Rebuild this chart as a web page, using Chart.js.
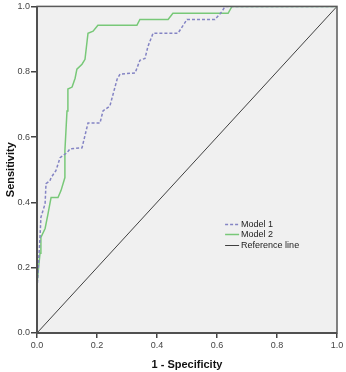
<!DOCTYPE html>
<html>
<head>
<meta charset="utf-8">
<script src="https://cdn.jsdelivr.net/npm/chart.js@4"></script>
<style>
  html, body { margin: 0; padding: 0; background: #ffffff; }
  #wrap { width: 346px; height: 372px; }
</style>
</head>
<body>
<div id="wrap"><canvas id="chart1" width="346" height="372"></canvas></div>
<script>
// ROC curves (1 - specificity, sensitivity)
const model1X = [0, 0, 0.01, 0.013, 0.027, 0.03, 0.043, 0.047, 0.063, 0.077, 0.1, 0.11, 0.15, 0.17, 0.21, 0.22, 0.243, 0.267, 0.277, 0.327, 0.343, 0.36, 0.37, 0.387, 0.47, 0.5, 0.593, 0.617, 0.627, 1];
const model1Y = [0, 0.13, 0.293, 0.354, 0.396, 0.457, 0.466, 0.476, 0.497, 0.537, 0.552, 0.564, 0.567, 0.643, 0.643, 0.68, 0.695, 0.777, 0.793, 0.796, 0.835, 0.841, 0.878, 0.918, 0.918, 0.96, 0.96, 0.985, 1, 1];

const model2X = [0, 0, 0.01, 0.013, 0.027, 0.037, 0.043, 0.047, 0.07, 0.08, 0.093, 0.093, 0.1, 0.103, 0.117, 0.127, 0.133, 0.15, 0.16, 0.17, 0.187, 0.203, 0.333, 0.343, 0.437, 0.453, 0.637, 0.65, 1];
const model2Y = [0, 0.152, 0.244, 0.293, 0.32, 0.366, 0.396, 0.415, 0.415, 0.436, 0.476, 0.558, 0.68, 0.747, 0.753, 0.78, 0.808, 0.823, 0.838, 0.918, 0.924, 0.942, 0.942, 0.96, 0.96, 0.979, 0.979, 1, 1];

const refX = [0, 1];
const refY = [0, 1];

const tickValues = [0, 0.2, 0.4, 0.6, 0.8, 1.0];
const seriesNames = ['Model 1', 'Model 2', 'Reference line'];

function toPoints(xs, ys) {
  let pts = [];
  for (let i = 0; i < xs.length; i++) {
    pts.push({x: xs[i], y: ys[i]});
  }
  return pts;
}

// grey plot background and frame
const areaPlugin = {
  id: 'areaPlugin',
  beforeDatasetsDraw(chart) {
    const a = chart.chartArea;
    const c = chart.ctx;
    c.save();
    c.fillStyle = '#f0f0f0';
    c.fillRect(a.left, a.top, a.right - a.left, a.bottom - a.top);
    c.restore();
  },
  afterDraw(chart) {
    const a = chart.chartArea;
    const c = chart.ctx;
    c.save();
    c.strokeStyle = '#5a5a5a';
    c.lineWidth = 1.5;
    c.strokeRect(a.left, a.top, a.right - a.left, a.bottom - a.top);
    // axes themselves a bit heavier
    c.strokeStyle = '#505050';
    c.lineWidth = 2;
    c.beginPath();
    c.moveTo(a.left, a.top);
    c.lineTo(a.left, a.bottom);
    c.lineTo(a.right, a.bottom);
    c.stroke();
    c.restore();
  }
};

// legend inside the plot, like the SPSS output
const legendPlugin = {
  id: 'legendPlugin',
  afterDraw(chart) {
    const c = chart.ctx;
    const xs = chart.scales.x;
    const ys = chart.scales.y;
    const x0 = xs.getPixelForValue(0.627);
    const x1 = x0 + 14;
    const rows = [0.335, 0.302, 0.268];
    c.save();
    c.font = '9px "Liberation Sans", Arial, sans-serif';
    c.textBaseline = 'middle';
    chart.data.datasets.forEach(function(ds, i) {
      const y = Math.round(ys.getPixelForValue(rows[i])) + 0.5;
      c.strokeStyle = ds.borderColor;
      c.lineWidth = ds.borderWidth;
      c.setLineDash(ds.borderDash || []);
      c.beginPath();
      c.moveTo(x0, y);
      c.lineTo(x1, y);
      c.stroke();
      c.setLineDash([]);
      c.fillStyle = '#222222';
      c.fillText(ds.label, x1 + 2, y);
    });
    c.restore();
  }
};

const ctx = document.getElementById('chart1').getContext('2d');

const chart1 = new Chart(ctx, {
  type: 'line',
  data: {
    datasets: [{
      label: seriesNames[0],
      data: toPoints(model1X, model1Y),
      borderColor: '#8484c4',
      borderWidth: 1.5,
      borderDash: [3, 2],
      pointRadius: 0,
      tension: 0
    },
    {
      label: seriesNames[1],
      data: toPoints(model2X, model2Y),
      borderColor: '#78c878',
      borderWidth: 1.5,
      pointRadius: 0,
      tension: 0
    },
    {
      label: seriesNames[2],
      data: toPoints(refX, refY),
      borderColor: '#404040',
      borderWidth: 1,
      pointRadius: 0,
      tension: 0
    }]
  },
  options: {
    responsive: false,
    animation: false,
    layout: {
      padding: {top: 5, right: 9, left: 0, bottom: 0}
    },
    plugins: {
      legend: {display: false},
      tooltip: {enabled: false}
    },
    scales: {
      x: {
        type: 'linear',
        min: 0,
        max: 1,
        afterBuildTicks: function(scale) {
          scale.ticks = tickValues.map(v => ({value: v}));
        },
        afterFit: function(scale) {
          scale.height = 39;
        },
        border: {display: false},
        grid: {
          drawOnChartArea: false,
          drawTicks: true,
          tickLength: 5,
          color: '#444444',
          lineWidth: 1.5
        },
        ticks: {
          padding: 2,
          color: '#444444',
          font: {family: '"Liberation Sans", Arial, sans-serif', size: 9},
          maxRotation: 0,
          callback: v => v.toFixed(1)
        },
        title: {
          display: true,
          text: '1 - Specificity',
          color: '#111111',
          padding: {top: 3, bottom: 0},
          font: {family: '"Liberation Sans", Arial, sans-serif', size: 11, weight: 'bold'}
        }
      },
      y: {
        type: 'linear',
        min: 0,
        max: 1,
        afterBuildTicks: function(scale) {
          scale.ticks = tickValues.map(v => ({value: v}));
        },
        afterFit: function(scale) {
          scale.width = 37;
        },
        border: {display: false},
        grid: {
          drawOnChartArea: false,
          drawTicks: true,
          tickLength: 6,
          color: '#444444',
          lineWidth: 1.5
        },
        ticks: {
          padding: 1,
          color: '#444444',
          font: {family: '"Liberation Sans", Arial, sans-serif', size: 9},
          callback: v => v.toFixed(1)
        },
        title: {
          display: true,
          text: 'Sensitivity',
          color: '#111111',
          padding: {top: 4, bottom: 0},
          font: {family: '"Liberation Sans", Arial, sans-serif', size: 11, weight: 'bold'}
        }
      }
    }
  },
  plugins: [areaPlugin, legendPlugin]
});
</script>
</body>
</html>
